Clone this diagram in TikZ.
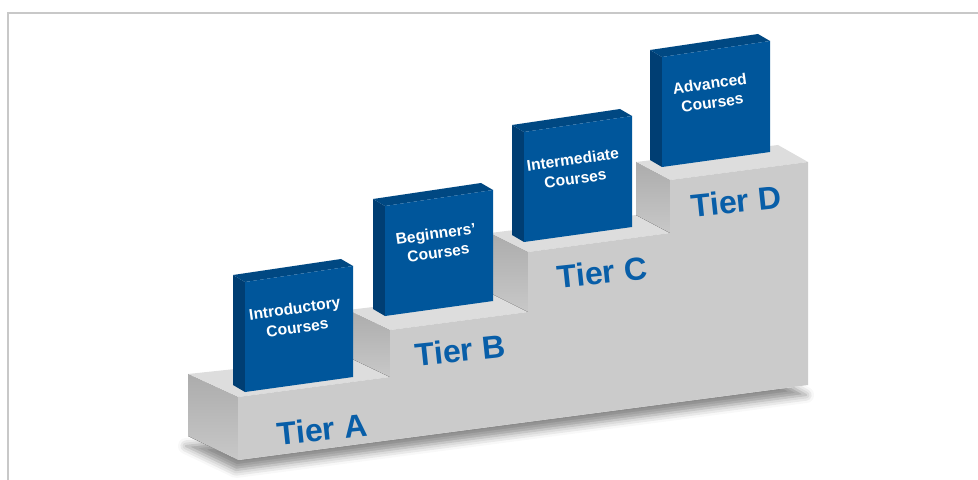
\documentclass[tikz,border=0pt]{standalone}
\usepackage{fontspec}
\setmainfont{Liberation Sans}
\usetikzlibrary{shadows.blur}
\definecolor{courseblue}{RGB}{0,86,155}
\definecolor{courseside}{RGB}{0,62,115}
\definecolor{coursetop}{RGB}{0,72,130}
\definecolor{tierblue}{RGB}{8,94,168}
\definecolor{frontgray}{RGB}{203,203,203}
\definecolor{treadgray}{RGB}{221,221,221}
\definecolor{risergray}{RGB}{172,172,172}
\definecolor{framegray}{RGB}{200,200,200}

\begin{document}
\begin{tikzpicture}[x=0.5pt, y=-0.5pt,
  tread/.style={fill=treadgray},
  riser/.style={top color=risergray, bottom color=frontgray!90!risergray},
  coursetext/.style={text=white, font=\fontsize{7.8}{9.6}\selectfont\bfseries, align=center, rotate=8},
  tierlabel/.style={text=tierblue, font=\fontsize{16}{18}\selectfont\bfseries, rotate=6}]
\useasboundingbox (0,0) rectangle (978,480);
\draw[framegray, line width=1pt] (8,480) -- (8,13) -- (978,13);

% shadow under the stairs
\fill[white, blur shadow={shadow xshift=-1pt, shadow yshift=-5pt, shadow blur radius=4pt, shadow opacity=45}]
  (238,460) -- (808,385) -- (778,368) -- (188,436) -- cycle;

% side faces and treads
\fill[riser] (238,460) -- (188,436) -- (188,374) -- (238,397) -- cycle;
\fill[tread] (238,397) -- (390,377) -- (348,357) -- (188,374) -- cycle;
\fill[riser] (390,377) -- (390,330) -- (348,310) -- (348,357) -- cycle;
\fill[tread] (390,330) -- (528,312) -- (490,293) -- (348,310) -- cycle;
\fill[riser] (528,312) -- (528,252) -- (490,233) -- (490,293) -- cycle;
\fill[tread] (528,252) -- (670,233) -- (636,215) -- (490,233) -- cycle;
\fill[riser] (670,233) -- (670,180) -- (636,162) -- (636,215) -- cycle;
\fill[tread] (670,180) -- (808,162) -- (778,145) -- (636,162) -- cycle;

% front of the stairs
\fill[frontgray] (238,460) -- (238,397) -- (390,377) -- (390,330) -- (528,312) -- (528,252)
  -- (670,233) -- (670,180) -- (808,162) -- (808,385) -- cycle;

% course blocks
\fill[courseside] (245,282) -- (233,275) -- (233,385) -- (245,392) -- cycle;
\fill[coursetop] (245,282) -- (233,275) -- (341,259) -- (353,266) -- cycle;
\fill[courseblue] (245,282) -- (353,266) -- (353,377) -- (245,392) -- cycle;

\fill[courseside] (385,206) -- (373,199) -- (373,309) -- (385,316) -- cycle;
\fill[coursetop] (385,206) -- (373,199) -- (481,183) -- (493,190) -- cycle;
\fill[courseblue] (385,206) -- (493,190) -- (493,301) -- (385,316) -- cycle;

\fill[courseside] (524,132) -- (512,125) -- (512,235) -- (524,242) -- cycle;
\fill[coursetop] (524,132) -- (512,125) -- (620,109) -- (632,116) -- cycle;
\fill[courseblue] (524,132) -- (632,116) -- (632,227) -- (524,242) -- cycle;

\fill[courseside] (662,57) -- (650,50) -- (650,160) -- (662,167) -- cycle;
\fill[coursetop] (662,57) -- (650,50) -- (758,34) -- (770,41) -- cycle;
\fill[courseblue] (662,57) -- (770,41) -- (770,152) -- (662,167) -- cycle;

\node[coursetext] (intro) at (296,318) {Introductory\\Courses};
\node[coursetext] (begin) at (437,243) {Beginners’\\Courses};
\node[coursetext] (inter) at (574,169) {Intermediate\\Courses};
\node[coursetext] (adv) at (711,93) {Advanced\\Courses};

\node[tierlabel] (tierA) at (322,429) {Tier A};
\node[tierlabel] (tierB) at (460,350) {Tier B};
\node[tierlabel] (tierC) at (602,272) {Tier C};
\node[tierlabel] (tierD) at (736,201) {Tier D};
\end{tikzpicture}
\end{document}
